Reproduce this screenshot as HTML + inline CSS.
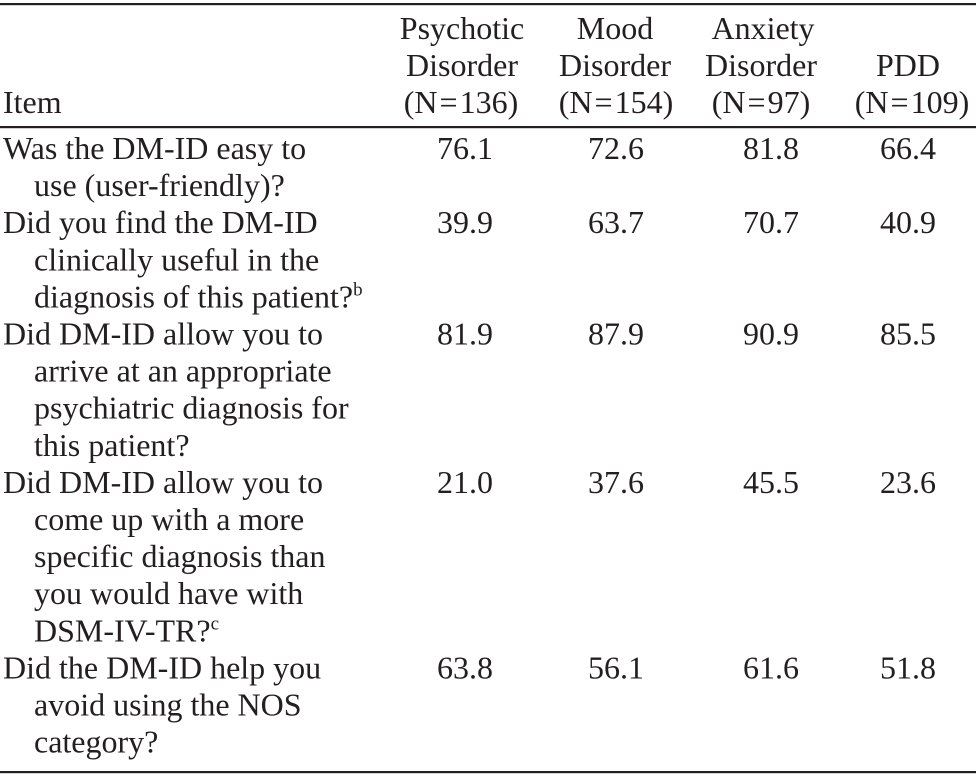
<!DOCTYPE html>
<html>
<head>
<meta charset="utf-8">
<style>
  html, body { margin: 0; padding: 0; background: #ffffff; }
  body { width: 978px; height: 778px; overflow: hidden; }
  svg { display: block; }
  text { font-family: "Liberation Serif", "DejaVu Serif", serif; font-size: 32px; fill: #231f20; }
  .c { text-anchor: middle; }
</style>
</head>
<body>
<svg width="978" height="778" viewBox="0 0 978 778" xmlns="http://www.w3.org/2000/svg">
  <!-- rules -->
  <rect x="0" y="3" width="976" height="2.2" fill="#231f20"/>
  <rect x="0" y="126" width="976" height="2.2" fill="#231f20"/>
  <rect x="0" y="771" width="976" height="2.2" fill="#231f20"/>

  <!-- header -->
  <text x="3" y="113">Item</text>

  <text class="c" x="462" y="39">Psychotic</text>
  <text class="c" x="462" y="76">Disorder</text>
  <text class="c" x="461" y="113">(N<tspan dx="2">=</tspan><tspan dx="2">136)</tspan></text>

  <text class="c" x="615" y="39">Mood</text>
  <text class="c" x="615" y="76">Disorder</text>
  <text class="c" x="616" y="113">(N<tspan dx="2">=</tspan><tspan dx="2">154)</tspan></text>

  <text class="c" x="763" y="39">Anxiety</text>
  <text class="c" x="761" y="76">Disorder</text>
  <text class="c" x="761" y="113">(N<tspan dx="2">=</tspan><tspan dx="2">97)</tspan></text>

  <text class="c" x="908" y="76">PDD</text>
  <text class="c" x="912" y="113">(N<tspan dx="2">=</tspan><tspan dx="2">109)</tspan></text>

  <!-- item column -->
  <text x="3" y="159">Was the DM-ID easy to</text>
  <text x="34" y="196.1">use (user-friendly)?</text>
  <text x="3" y="233.2">Did you find the DM-ID</text>
  <text x="34" y="270.3">clinically useful in the</text>
  <text x="34" y="307.4">diagnosis of this patient?<tspan font-size="19" dy="-12">b</tspan></text>
  <text x="3" y="344.5">Did DM-ID allow you to</text>
  <text x="34" y="381.6">arrive at an appropriate</text>
  <text x="34" y="418.7">psychiatric diagnosis for</text>
  <text x="34" y="455.8">this patient?</text>
  <text x="3" y="492.9">Did DM-ID allow you to</text>
  <text x="34" y="530">come up with a more</text>
  <text x="34" y="567.1">specific diagnosis than</text>
  <text x="34" y="604.2">you would have with</text>
  <text x="34" y="641.3">DSM-IV-TR?<tspan font-size="19" dy="-12">c</tspan></text>
  <text x="3" y="678.4">Did the DM-ID help you</text>
  <text x="34" y="715.5">avoid using the NOS</text>
  <text x="34" y="752.6">category?</text>

  <!-- values -->
  <text class="c" x="465" y="159">76.1</text>
  <text class="c" x="616" y="159">72.6</text>
  <text class="c" x="771" y="159">81.8</text>
  <text class="c" x="908" y="159">66.4</text>

  <text class="c" x="465" y="233.2">39.9</text>
  <text class="c" x="616" y="233.2">63.7</text>
  <text class="c" x="771" y="233.2">70.7</text>
  <text class="c" x="908" y="233.2">40.9</text>

  <text class="c" x="465" y="344.5">81.9</text>
  <text class="c" x="616" y="344.5">87.9</text>
  <text class="c" x="771" y="344.5">90.9</text>
  <text class="c" x="908" y="344.5">85.5</text>

  <text class="c" x="465" y="492.9">21.0</text>
  <text class="c" x="616" y="492.9">37.6</text>
  <text class="c" x="771" y="492.9">45.5</text>
  <text class="c" x="908" y="492.9">23.6</text>

  <text class="c" x="465" y="678.4">63.8</text>
  <text class="c" x="616" y="678.4">56.1</text>
  <text class="c" x="771" y="678.4">61.6</text>
  <text class="c" x="908" y="678.4">51.8</text>
</svg>
</body>
</html>
